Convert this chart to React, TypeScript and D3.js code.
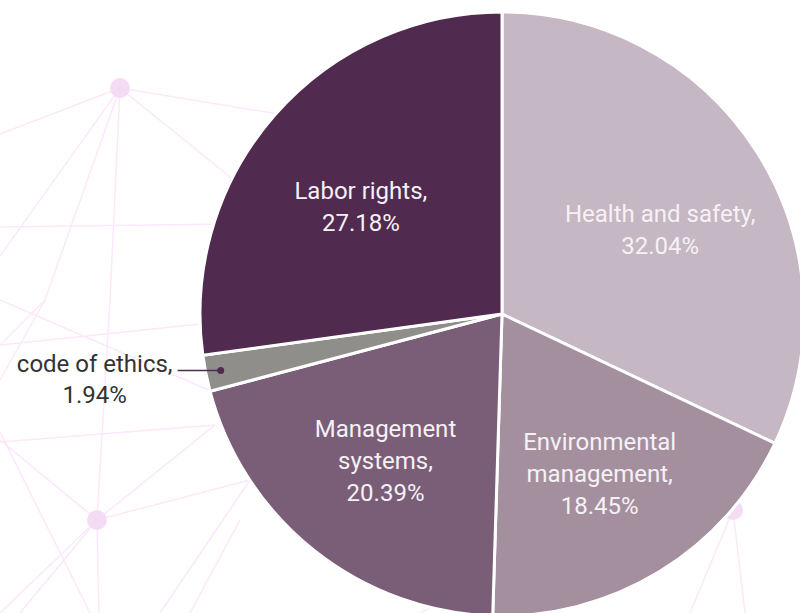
import React from "react";
import * as d3 from "d3";

const categories = [
  "Health and safety",
  "Environmental management",
  "Management systems",
  "code of ethics",
  "Labor rights",
];
const shares = [32.04, 18.45, 20.39, 1.94, 27.18];
const colors = ["#c5b7c3", "#a48f9f", "#7a5e77", "#8f8e8b", "#502a4f"];
// label lines per slice (as shown in the chart)
const labelLines = [
  ["Health and safety,", "32.04%"],
  ["Environmental", "management,", "18.45%"],
  ["Management", "systems,", "20.39%"],
  ["code of ethics,", "1.94%"],
  ["Labor rights,", "27.18%"],
];
const outside = [false, false, false, true, false];

// faint background network
const bgNodes = [
  [120, 88], [97, 520], [733, 510],
];
const bgEdges = [
  [120, 88, 0, 134], [120, 88, 290, 116], [120, 88, 240, 185], [120, 88, 0, 256],
  [120, 88, 45, 300], [120, 88, 110, 300], [0, 227, 230, 224],
  [110, 300, 97, 520], [45, 300, 0, 345], [0, 345, 220, 322],
  [0, 442, 215, 425], [0, 440, 97, 520], [97, 520, 215, 425], [97, 520, 250, 480],
  [0, 432, 90, 613], [97, 520, 99, 613], [97, 520, 0, 613], [97, 520, 20, 613],
  [45, 300, 0, 380], [0, 300, 220, 395], [250, 480, 160, 613], [240, 520, 190, 613],
  [733, 510, 690, 613], [733, 510, 745, 613], [420, 613, 470, 590],
];

const width = 800;
const height = 613;
const cx = 502;
const cy = 314;
const radius = 302;

export default function App() {
  const pie = d3
    .pie<number>()
    .sort(null)
    .value((d) => d);
  const arcs = pie(shares);
  const arc = d3.arc<d3.PieArcDatum<number>>().innerRadius(0).outerRadius(radius);
  const labelArc = d3
    .arc<d3.PieArcDatum<number>>()
    .innerRadius(radius * 0.62)
    .outerRadius(radius * 0.62);
  const dotArc = d3
    .arc<d3.PieArcDatum<number>>()
    .innerRadius(radius * 0.95)
    .outerRadius(radius * 0.95);

  const fontSize = 24;
  const lineH = 32;

  return (
    <svg
      width={width}
      height={height}
      style={{ position: "absolute", left: 0, top: 0, background: "#fff" }}
      fontFamily="Roboto, sans-serif"
    >
      <g stroke="#fbe8fb" strokeWidth={1.5}>
        {bgEdges.map((e, i) => (
          <line key={i} x1={e[0]} y1={e[1]} x2={e[2]} y2={e[3]} />
        ))}
      </g>
      <g fill="#f4dcf4">
        {bgNodes.map((n, i) => (
          <circle key={i} cx={n[0]} cy={n[1]} r={10} />
        ))}
      </g>
      <g transform={`translate(${cx},${cy})`}>
        {arcs.map((a, i) => (
          <path key={i} d={arc(a) || ""} fill={colors[i]} stroke="#fff" strokeWidth={3} strokeLinejoin="round" />
        ))}
        {arcs.map((a, i) => {
          if (outside[i]) {
            const [dx, dy] = dotArc.centroid(a);
            const tx = dx - 43;
            return (
              <g key={i}>
                <line x1={tx} y1={dy} x2={dx} y2={dy} stroke="#502a4f" strokeWidth={1.5} />
                <circle cx={dx} cy={dy} r={3.5} fill="#502a4f" />
                <text textAnchor="middle" fontSize={fontSize} fill="#333">
                  {labelLines[i].map((l, j) => (
                    <tspan key={j} x={tx - 83} y={dy + 2 + j * 31}>
                      {l}
                    </tspan>
                  ))}
                </text>
              </g>
            );
          }
          const [lx, ly] = labelArc.centroid(a);
          const n = labelLines[i].length;
          const y0 = ly + 8.5 - Math.floor((n - 1) / 2) * lineH;
          return (
            <text key={i} textAnchor="middle" fontSize={fontSize} fill="#f6f1f5">
              {labelLines[i].map((l, j) => (
                <tspan key={j} x={lx} y={y0 + j * lineH}>
                  {l}
                </tspan>
              ))}
            </text>
          );
        })}
      </g>
    </svg>
  );
}
